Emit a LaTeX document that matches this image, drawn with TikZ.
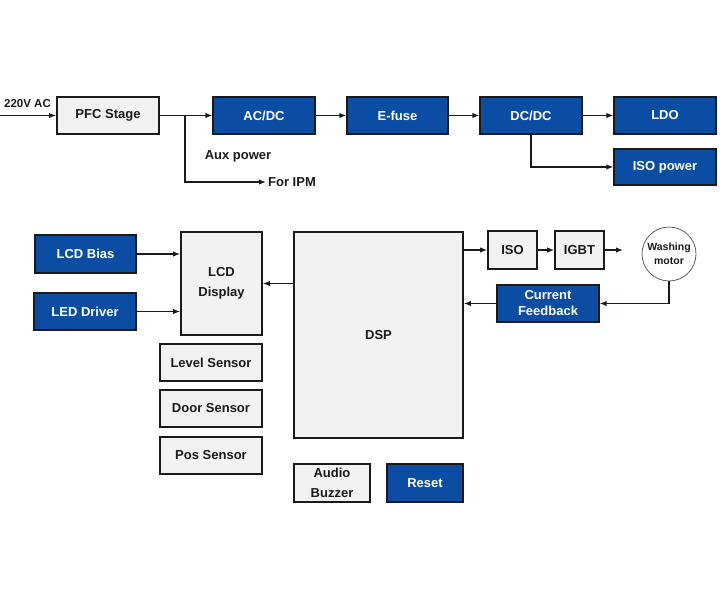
\documentclass[tikz,border=0pt]{standalone}
\usepackage{fontspec}
\setmainfont{Liberation Sans}
\usepackage{tikz}
\usetikzlibrary{arrows.meta,positioning,shapes.geometric,calc}
\definecolor{accent}{HTML}{0A4DA2}
\definecolor{boxgray}{HTML}{F2F2F2}
\definecolor{ink}{HTML}{1A1A1A}

\begin{document}
\begin{tikzpicture}[
          x=1pt,y=-1pt,
          every node/.style={font=\fontsize{13}{15}\selectfont\bfseries,text=ink},
          box/.style={draw=ink,line width=1.6pt,fill=boxgray,
                      minimum height=37pt,align=center,inner sep=2pt},
          bluebox/.style={draw=ink,line width=1.2pt,fill=accent,text=white,
                          minimum height=37pt,align=center,inner sep=2pt},
          lbl/.style={inner sep=2pt},
          arr/.style={-{Latex[length=7pt,width=5.5pt]},line width=1.4pt,draw=ink}
      ]
        \useasboundingbox (0,0) rectangle (720,600);

        % power path
        \coordinate (ac) at (0,115.5);
        \node[lbl,anchor=south west] (aclbl) at (2,110) {\fontsize{11.5}{13}\selectfont 220V AC};
        \node[box,minimum width=102pt] (pfc) at (108,115.5) {PFC Stage};
        \node[bluebox,minimum width=102pt] (acdc) at (264,115.5) {AC/DC};
        \node[bluebox,minimum width=101pt] (efuse) at (397.5,115.5) {E-fuse};
        \node[bluebox,minimum width=102pt] (dcdc) at (531,115.5) {DC/DC};
        \node[bluebox,minimum width=102pt] (ldo) at (665,115.5) {LDO};
        \node[bluebox,minimum width=102pt,minimum height=36pt] (isopwr) at (665,167) {ISO power};
        \coordinate (aux) at (185,115.5);
        \node[lbl] (auxlbl) at (238,156) {Aux power};
        \node[lbl,anchor=west] (ipm) at (266,182) {For IPM};

        \draw[arr] (ac) -- (pfc);
        \draw[arr] (pfc) -- (acdc);
        \draw[arr] (aux) |- (ipm.west);
        \draw[arr] (acdc) -- (efuse);
        \draw[arr] (efuse) -- (dcdc);
        \draw[arr] (dcdc) -- (ldo);
        \draw[arr] (dcdc.south) |- (isopwr.west);

        % control board
        \node[bluebox,minimum width=101pt,minimum height=38pt] (lcdbias) at (85.5,254) {LCD Bias};
        \node[bluebox,minimum width=102pt] (leddrv) at (85,311.5) {LED Driver};
        \node[box,minimum width=81pt,minimum height=103pt,
              font=\fontsize{13}{20}\selectfont\bfseries] (lcd) at (221.5,283.5) {LCD\\Display};
        \node[box,minimum width=169pt,minimum height=206pt] (dsp) at (378.5,335) {DSP};
        \node[box,minimum width=102pt] (level) at (211,362.5) {Level Sensor};
        \node[box,minimum width=102pt] (door) at (211,408.5) {Door Sensor};
        \node[box,minimum width=102pt] (pos) at (211,455.5) {Pos Sensor};
        \node[box,minimum width=76pt,minimum height=38pt,
              font=\fontsize{13}{20}\selectfont\bfseries] (buzzer) at (332,483) {Audio\\Buzzer};
        \node[bluebox,minimum width=76pt,minimum height=38pt] (reset) at (425,483) {Reset};
        \node[box,minimum width=49pt,minimum height=38pt] (iso) at (512.5,250) {ISO};
        \node[box,minimum width=49pt,minimum height=38pt] (igbt) at (579.5,250) {IGBT};
        \coordinate (tomotor) at (623,250);
        \node[circle,draw=ink!70,line width=0.8pt,fill=white,minimum size=54pt,inner sep=0pt,
              align=center,font=\fontsize{10.5}{14}\selectfont\bfseries] (motor) at (669,254) {Washing\\motor};
        \node[bluebox,minimum width=102pt,
              font=\fontsize{13}{16}\selectfont\bfseries] (cfb) at (548,303.5) {Current\\Feedback};

        \draw[arr] (lcdbias) -- (lcd.west |- lcdbias);
        \draw[arr] (leddrv) -- (lcd.west |- leddrv);
        \draw[arr] (dsp.west |- lcd.east) -- (lcd.east);
        \draw[arr] (dsp.east |- iso.west) -- (iso.west);
        \draw[arr] (iso) -- (igbt);
        \draw[arr] (igbt) -- (tomotor);
        \draw[arr] (motor.south) |- (cfb.east);
        \draw[arr] (cfb.west) -- (dsp.east |- cfb.west);
      \end{tikzpicture}
\end{document}
